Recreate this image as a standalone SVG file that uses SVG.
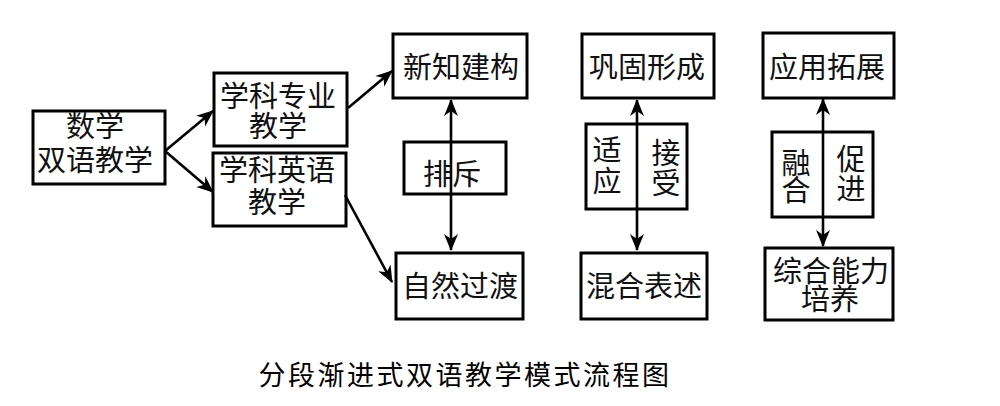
<svg xmlns="http://www.w3.org/2000/svg" width="1000" height="406" viewBox="0 0 1000 406">
<style>
.box{fill:#fff;stroke:#000;stroke-width:3}
.t{font-family:"Noto Sans CJK SC","Noto Sans CJK JP",sans-serif;font-size:29px;fill:#111;text-anchor:middle}
.title{font-family:"Noto Sans CJK SC","Noto Sans CJK JP",sans-serif;font-size:27px;fill:#000;text-anchor:middle;letter-spacing:2.5px}
.c{fill:none;stroke:#000;stroke-width:2.6}
</style>
<defs>
<marker id="ah" markerUnits="userSpaceOnUse" markerWidth="18" markerHeight="18" viewBox="0 0 18 18" refX="16" refY="9" orient="auto-start-reverse">
<path d="M0,2 L17,9 L0,16 L5,9 z" fill="#000"/>
</marker>
</defs>
<rect width="1000" height="406" fill="#fff"/>
<g id="n-math">
<rect class="box" x="33" y="111" width="132" height="73"/>
<text class="t"><tspan x="95" y="137">数学</tspan><tspan x="95" y="171">双语教学</tspan></text>
</g>
<g id="n-major">
<rect class="box" x="214" y="73" width="133" height="73"/>
<text class="t"><tspan x="278" y="107">学科专业</tspan><tspan x="278" y="137">教学</tspan></text>
</g>
<g id="n-english">
<rect class="box" x="213" y="153" width="133" height="73"/>
<text class="t"><tspan x="277" y="181">学科英语</tspan><tspan x="277" y="213">教学</tspan></text>
</g>
<g id="n-xinzhi">
<rect class="box" x="393" y="34" width="134" height="64"/>
<text class="t" x="461" y="78">新知建构</text>
</g>
<g id="n-paichi">
<rect class="box" x="404" y="142" width="102" height="52"/>
<text class="t" x="452" y="185">排斥</text>
</g>
<g id="n-ziran">
<rect class="box" x="396" y="253" width="127" height="66"/>
<text class="t" x="460" y="297">自然过渡</text>
</g>
<g id="n-gonggu">
<rect class="box" x="582" y="34" width="132" height="64"/>
<text class="t" x="647" y="78">巩固形成</text>
</g>
<g id="n-shiying">
<rect class="box" x="586" y="124" width="101" height="85"/>
<text class="t"><tspan x="607" y="161">适</tspan><tspan x="607" y="192">应</tspan></text>
<text class="t"><tspan x="666" y="164">接</tspan><tspan x="666" y="194">受</tspan></text>
</g>
<g id="n-hunhe">
<rect class="box" x="581" y="253" width="126" height="66"/>
<text class="t" x="644" y="297">混合表述</text>
</g>
<g id="n-yingyong">
<rect class="box" x="763" y="33" width="131" height="65"/>
<text class="t" x="827" y="78">应用拓展</text>
</g>
<g id="n-ronghe">
<rect class="box" x="772" y="132" width="101" height="85"/>
<text class="t"><tspan x="796" y="174">融</tspan><tspan x="796" y="201">合</tspan></text>
<text class="t"><tspan x="851" y="170">促</tspan><tspan x="851" y="200">进</tspan></text>
</g>
<g id="n-zonghe">
<rect class="box" x="765" y="248" width="128" height="72"/>
<text class="t"><tspan x="831" y="282">综合能力</tspan><tspan x="830" y="310">培养</tspan></text>
</g>
<g id="connectors">
<line class="c" x1="165" y1="151" x2="213" y2="111" marker-end="url(#ah)"/>
<line class="c" x1="165" y1="151" x2="213" y2="192" marker-end="url(#ah)"/>
<line class="c" x1="348" y1="108" x2="392" y2="71" marker-end="url(#ah)"/>
<line class="c" x1="345" y1="195" x2="392" y2="282" marker-end="url(#ah)"/>
<line class="c" x1="451" y1="100" x2="451" y2="250" marker-start="url(#ah)" marker-end="url(#ah)"/>
<line class="c" x1="637" y1="100" x2="637" y2="250" marker-start="url(#ah)" marker-end="url(#ah)"/>
<line class="c" x1="823" y1="99" x2="823" y2="246" marker-start="url(#ah)" marker-end="url(#ah)"/>
</g>
<text class="title" x="465" y="385">分段渐进式双语教学模式流程图</text>
</svg>
